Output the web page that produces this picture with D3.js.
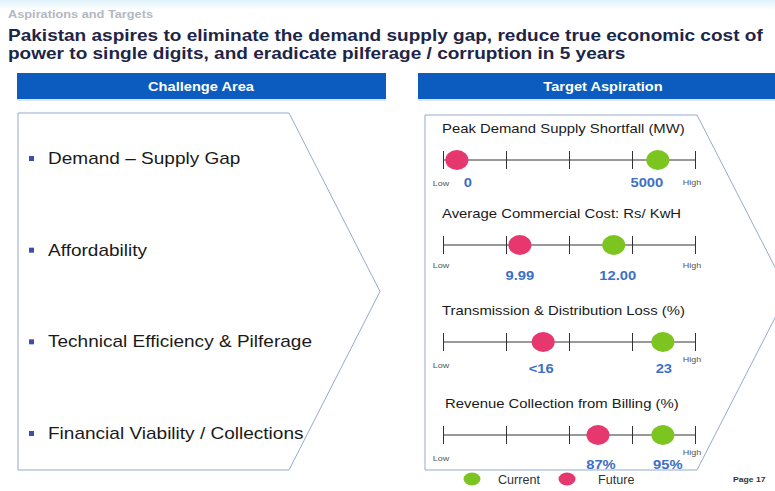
<!DOCTYPE html>
<html>
<head>
<meta charset="utf-8">
<script src="https://cdn.jsdelivr.net/npm/d3@7"></script>
<style>
  body { margin: 0; background: #fff; }
  svg { display: block; font-family: "Liberation Sans", Arial, sans-serif; }
</style>
</head>
<body>
<div id="chart"></div>
<script>
// data
const challenges = ["Demand \u2013 Supply Gap", "Affordability", "Technical Efficiency & Pilferage", "Financial Viability / Collections"];
const metrics = ["Peak Demand Supply Shortfall (MW)", "Average Commercial Cost: Rs/ KwH", "Transmission & Distribution Loss (%)", "Revenue Collection from Billing (%)"];
const currentPos = [3.41, 2.71, 3.49, 3.49];
const futurePos = [0.22, 1.22, 1.59, 2.46];
const currentLabels = ["5000", "12.00", "23", "95%"];
const futureLabels = ["0", "9.99", "<16", "87%"];
const tickValues = [0, 1, 2, 3, 4];
const legendItems = ["Current", "Future"];

// layout
const W = 775, H = 491;
const axisY = [160, 245, 342, 435];
const lowDy = [26, 23, 26, 26];
const highDy = [25, 23, 20, 20];
const valDy = [27, 35, 31, 34];
const curDx = [-11, 4, 1, 5];
const futDx = [11, 0, -2, 3];
const GREEN = "#7cc520", PINK = "#e6386f", BLUE = "#3d6fc6", HEAD = "#0b5cbe";

let svg = d3.select("#chart").append("svg")
  .attr("width", W)
  .attr("height", H);

// text squeezed/stretched horizontally around its anchor
function txt(parent, x, y, sx, s) {
  return parent.append("text")
    .attr("transform", `translate(${x},${y}) scale(${sx},1)`)
    .text(s);
}

let grad = svg.append("defs").append("linearGradient")
  .attr("id", "topfade").attr("x1", 0).attr("y1", 0).attr("x2", 0).attr("y2", 1);
grad.append("stop").attr("offset", "0").attr("stop-color", "#dff2fa");
grad.append("stop").attr("offset", "1").attr("stop-color", "#ffffff");
svg.append("rect").attr("width", W).attr("height", 10).attr("fill", "url(#topfade)");

txt(svg, 8, 18, 1.16, "Aspirations and Targets")
  .attr("font-size", 11).attr("font-weight", "bold")
  .attr("fill", "#b4b8bf");

txt(svg, 8, 41, 1.12, "Pakistan aspires to eliminate the demand supply gap, reduce true economic cost of")
  .attr("font-size", 17).attr("font-weight", "bold")
  .attr("fill", "#1e2547");
txt(svg, 8, 59, 1.12, "power to single digits, and eradicate pilferage / corruption in 5 years")
  .attr("font-size", 17).attr("font-weight", "bold")
  .attr("fill", "#1e2547");

// header bars
[[17, 369, 201, "Challenge Area"], [418, 360, 603, "Target Aspiration"]].forEach(([x, w, cx, t]) => {
  svg.append("rect")
    .attr("x", x).attr("y", 73).attr("width", w).attr("height", 26)
    .attr("fill", HEAD);
  svg.append("rect")
    .attr("x", x).attr("y", 99).attr("width", w).attr("height", 2)
    .attr("fill", "#dbe6f4");
  txt(svg, cx, 91, 1.17, t)
    .attr("text-anchor", "middle")
    .attr("font-size", 12.5).attr("font-weight", "bold")
    .attr("fill", "#fff");
});

// chevron shapes
const chevron = (x0, x1, tip, y0, y1) =>
  `M${x0},${y0} L${x1},${y0} L${tip},${(y0 + y1) / 2} L${x1},${y1} L${x0},${y1} Z`;

svg.append("path")
  .attr("d", chevron(18, 289, 380, 113, 470))
  .attr("fill", "none").attr("stroke", "#95a9d0").attr("stroke-width", 1);
svg.append("path")
  .attr("d", chevron(425, 697, 788, 115, 470))
  .attr("fill", "none").attr("stroke", "#95a9d0").attr("stroke-width", 1);

// challenge list
let yChal = d3.scalePoint().domain(challenges).range([158, 433]);
let chal = svg.append("g").selectAll("g").data(challenges).join("g")
  .attr("transform", d => `translate(0,${yChal(d)})`);
chal.append("rect")
  .attr("x", 29).attr("y", -2).attr("width", 5).attr("height", 5)
  .attr("fill", "#3a4fae");
chal.each(function (d) {
  txt(d3.select(this), 48, 6, 1.12, d)
    .attr("font-size", 17)
    .attr("fill", "#1a1a1a");
});

// target scales
let x = d3.scaleLinear().domain([0, 4]).range([443, 695]);

metrics.forEach((m, i) => {
  let g = svg.append("g").attr("transform", `translate(0,${axisY[i]})`);

  txt(g, i === 3 ? 445 : 442, -27, 1.19, m)
    .attr("font-size", 12.5)
    .attr("fill", "#1a1a1a");

  let ax = g.append("g")
    .call(d3.axisBottom(x).tickValues(tickValues).tickSize(0).tickFormat(""));
  ax.select(".domain").attr("stroke", "#333").attr("d", `M${x(0)},0H${x(4)}`);
  ax.selectAll(".tick line").attr("y1", -9).attr("y2", 9).attr("stroke", "#333");

  g.append("ellipse")
    .attr("cx", x(futurePos[i])).attr("cy", 0)
    .attr("rx", 11.5).attr("ry", 10)
    .attr("fill", PINK);
  g.append("ellipse")
    .attr("cx", x(currentPos[i])).attr("cy", 0)
    .attr("rx", 11.5).attr("ry", 10)
    .attr("fill", GREEN);

  txt(g, x(0) - 2, lowDy[i], 1.2, "Low")
    .attr("text-anchor", "middle")
    .attr("font-size", 7.5).attr("fill", "#555");
  txt(g, x(4) - 3, highDy[i], 1.2, "High")
    .attr("text-anchor", "middle")
    .attr("font-size", 7.5).attr("fill", "#555");

  txt(g, x(futurePos[i]) + futDx[i], valDy[i], 1.18, futureLabels[i])
    .attr("text-anchor", "middle")
    .attr("font-size", 12.5).attr("font-weight", "bold")
    .attr("fill", BLUE);
  txt(g, x(currentPos[i]) + curDx[i], valDy[i], 1.18, currentLabels[i])
    .attr("text-anchor", "middle")
    .attr("font-size", 12.5).attr("font-weight", "bold")
    .attr("fill", BLUE);
});

// legend
let lx = d3.scalePoint().domain(legendItems).range([472, 567]);
let leg = svg.append("g").selectAll("g").data(legendItems).join("g")
  .attr("transform", d => `translate(${lx(d)},479)`);
leg.append("ellipse")
  .attr("rx", 8.5).attr("ry", 6.5)
  .attr("fill", d => d === "Current" ? GREEN : PINK);
leg.each(function (d) {
  txt(d3.select(this), d === "Current" ? 26 : 31, 5, 1.05, d)
    .attr("font-size", 12).attr("fill", "#333");
});

txt(svg, 733, 482, 1.15, "Page 17")
  .attr("font-size", 7.5).attr("font-weight", "bold").attr("fill", "#333");
</script>
</body>
</html>
